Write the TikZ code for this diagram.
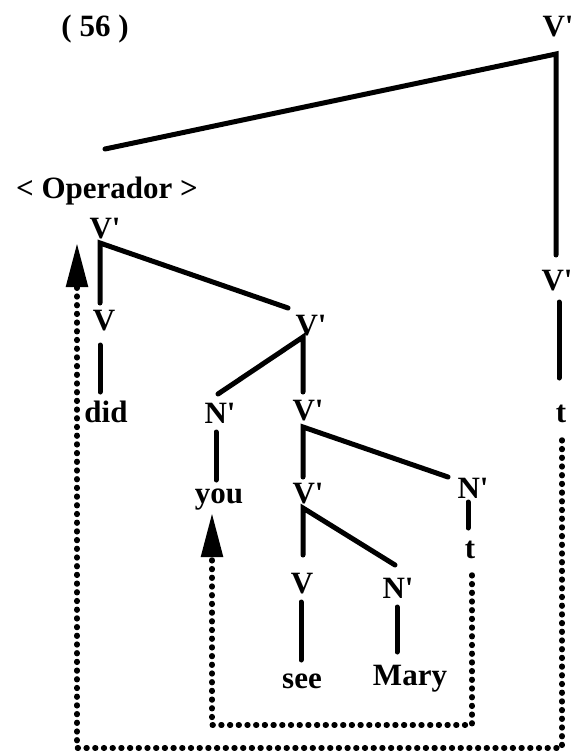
\documentclass[tikz,border=0pt]{standalone}
\usepackage{fontspec}
\newfontfamily\tr{Liberation Serif}[Ligatures=TeXOff]
\usetikzlibrary{arrows.meta}
\begin{document}
\begin{tikzpicture}[x=1pt,y=-1pt,
  lab/.style={font=\tr\bfseries\fontsize{31}{36}\selectfont, inner sep=0pt, anchor=base},
  br/.style={line width=5pt,line cap=round,line join=miter},
  mv/.style={line width=5.5pt,line cap=round,dash pattern=on 0.8pt off 7.9pt},
  tip/.style={-{Triangle[width=21pt,length=44pt]}}]
\useasboundingbox (0,0) rectangle (574,751);
% labels
\node[lab] (ex)   at (95,37)  {( 56 )};
\node[lab] (vtop) at (558,37) {V\textquotesingle};
\node[lab] (op)   at (107,199) {< Operador >};
\node[lab] (va)   at (105,238) {V\textquotesingle};
\node[lab] (vb)   at (104,330) {V};
\node[lab] (did)  at (106,422) {did};
\node[lab] (vc)   at (311,335) {V\textquotesingle};
\node[lab] (na)   at (220,423) {N\textquotesingle};
\node[lab] (vd)   at (308,420) {V\textquotesingle};
\node[lab] (you)  at (219,503) {you};
\node[lab] (ve)   at (308,503) {V\textquotesingle};
\node[lab] (nb)   at (473,498) {N\textquotesingle};
\node[lab] (t1)   at (470,558) {t};
\node[lab] (vf)   at (302,593) {V};
\node[lab] (nc)   at (398,598) {N\textquotesingle};
\node[lab] (see)  at (302,688) {see};
\node[lab] (mary) at (410,685) {Mary};
\node[lab] (vr)   at (557,290) {V\textquotesingle};
\node[lab] (t2)   at (561,422) {t};
% branch points
\coordinate (topl) at (105,149);
\coordinate (topc) at (556,54);
\coordinate (topr) at (556,255);
\coordinate (rv1) at (559,302);
\coordinate (rv2) at (559,378);
\coordinate (c1) at (100,243);
\coordinate (c1r) at (288,308);
\coordinate (c1d) at (100,303);
\coordinate (vd1) at (100,345);
\coordinate (vd2) at (100,392);
\coordinate (c2) at (303,337);
\coordinate (c2l) at (218,394);
\coordinate (c2d) at (303,392);
\coordinate (ny1) at (216,432);
\coordinate (ny2) at (216,480);
\coordinate (c3) at (303,427);
\coordinate (c3r) at (448,477);
\coordinate (c3d) at (303,477);
\coordinate (nt1) at (468,502);
\coordinate (nt2) at (468,528);
\coordinate (c4) at (303,508);
\coordinate (c4r) at (395,565);
\coordinate (c4d) at (303,555);
\coordinate (vs1) at (301,602);
\coordinate (vs2) at (301,660);
\coordinate (nm1) at (397,607);
\coordinate (nm2) at (397,652);
% tree
\draw[br] (topl) -- (topc) -- (topr);
\draw[br] (rv1) -- (rv2);
\draw[br] (c1r) -- (c1) -- (c1d);
\draw[br] (vd1) -- (vd2);
\draw[br] (c2l) -- (c2) -- (c2d);
\draw[br] (ny1) -- (ny2);
\draw[br] (c3r) -- (c3) -- (c3d);
\draw[br] (nt1) -- (nt2);
\draw[br] (c4r) -- (c4) -- (c4d);
\draw[br] (vs1) -- (vs2);
\draw[br] (nm1) -- (nm2);
% movement
\coordinate (o1) at (562,440);
\coordinate (o2) at (562,748);
\coordinate (o3) at (77,748);
\coordinate (o4) at (77,243);
\coordinate (i1) at (472,575);
\coordinate (i2) at (472,725);
\coordinate (i3) at (212,725);
\coordinate (i4) at (212,513);
\draw[mv,tip] (o1) -- (o2) -- (o3) -- (o4);
\draw[mv,tip] (i1) -- (i2) -- (i3) -- (i4);
\end{tikzpicture}
\end{document}
